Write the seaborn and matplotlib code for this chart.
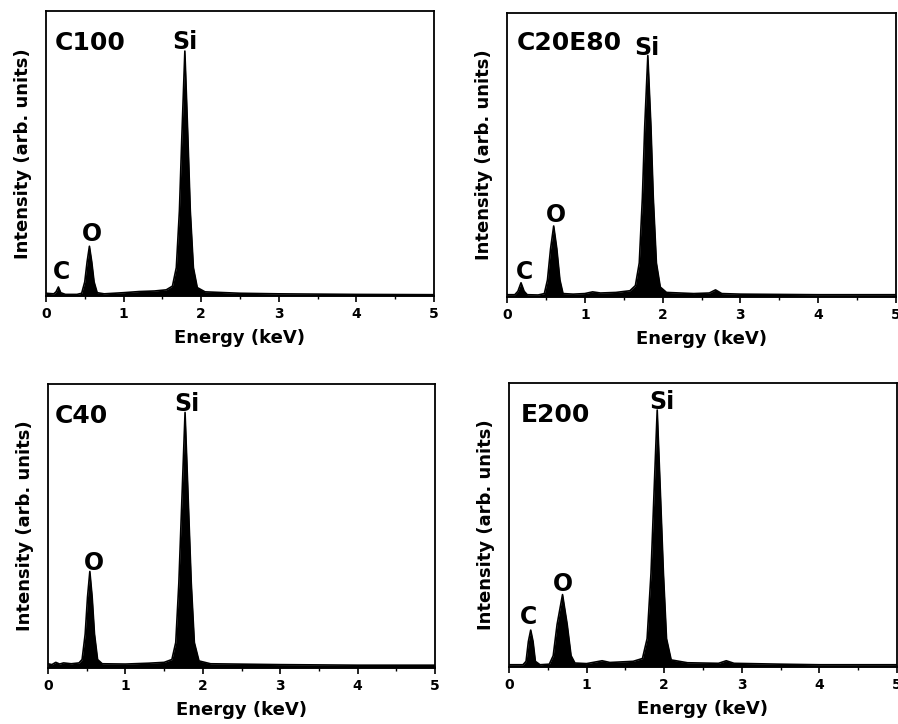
import numpy as np
import pandas as pd
import matplotlib
matplotlib.use("Agg")
import matplotlib.pyplot as plt
from matplotlib.ticker import MultipleLocator
import seaborn as sns

# ---------------- data ----------------
samples = ["C100", "C20E80", "C40", "E200"]

c100_energy = [0.00, 0.10, 0.13, 0.16, 0.19, 0.25, 0.40, 0.46, 0.50, 0.53, 0.56, 0.59, 0.62, 0.66,
               0.75, 1.00, 1.20, 1.40, 1.55, 1.63, 1.68, 1.72, 1.75, 1.79, 1.83, 1.86, 1.90, 1.95,
               2.05, 2.50, 3.00, 4.00, 5.00]
c100_intensity = [0.010, 0.008, 0.015, 0.032, 0.012, 0.006, 0.006, 0.010, 0.050, 0.120, 0.175, 0.120,
                  0.050, 0.012, 0.008, 0.012, 0.016, 0.018, 0.022, 0.035, 0.100, 0.300, 0.550, 0.860,
                  0.550, 0.300, 0.100, 0.030, 0.015, 0.010, 0.008, 0.006, 0.005]

c20e80_energy = [0.00, 0.10, 0.14, 0.18, 0.22, 0.26, 0.40, 0.48, 0.52, 0.56, 0.60, 0.64, 0.68, 0.72,
                 0.85, 1.00, 1.10, 1.20, 1.40, 1.58, 1.65, 1.70, 1.74, 1.77, 1.81, 1.85, 1.88, 1.92,
                 1.97, 2.05, 2.40, 2.60, 2.68, 2.76, 3.00, 4.00, 5.00]
c20e80_intensity = [0.008, 0.008, 0.020, 0.050, 0.020, 0.008, 0.007, 0.012, 0.060, 0.170, 0.250, 0.170,
                    0.060, 0.012, 0.010, 0.012, 0.018, 0.014, 0.016, 0.022, 0.040, 0.120, 0.350, 0.600,
                    0.850, 0.600, 0.350, 0.120, 0.035, 0.016, 0.012, 0.014, 0.025, 0.012, 0.010, 0.008,
                    0.008]

c40_energy = [0.00, 0.05, 0.10, 0.15, 0.20, 0.30, 0.40, 0.44, 0.48, 0.51, 0.54, 0.57, 0.60, 0.64,
              0.70, 1.00, 1.30, 1.50, 1.60, 1.65, 1.69, 1.73, 1.77, 1.81, 1.85, 1.89, 1.95, 2.10,
              3.00, 4.00, 5.00]
c40_intensity = [0.015, 0.012, 0.020, 0.014, 0.018, 0.015, 0.018, 0.030, 0.120, 0.250, 0.340, 0.250,
                 0.120, 0.030, 0.015, 0.014, 0.017, 0.020, 0.030, 0.090, 0.300, 0.600, 0.900, 0.600,
                 0.300, 0.090, 0.025, 0.015, 0.012, 0.010, 0.010]

e200_energy = [0.00, 0.18, 0.22, 0.25, 0.28, 0.31, 0.34, 0.40, 0.52, 0.57, 0.62, 0.69, 0.75, 0.80,
               0.85, 1.00, 1.20, 1.30, 1.60, 1.72, 1.78, 1.83, 1.87, 1.91, 1.95, 1.99, 2.03, 2.09,
               2.30, 2.70, 2.80, 2.90, 3.50, 4.00, 5.00]
e200_intensity = [0.008, 0.008, 0.020, 0.090, 0.130, 0.090, 0.020, 0.008, 0.010, 0.040, 0.150, 0.255,
                  0.150, 0.040, 0.014, 0.012, 0.022, 0.016, 0.020, 0.030, 0.100, 0.330, 0.620, 0.905,
                  0.620, 0.330, 0.100, 0.025, 0.015, 0.013, 0.022, 0.013, 0.010, 0.008, 0.008]

energies = [c100_energy, c20e80_energy, c40_energy, e200_energy]
intensities = [c100_intensity, c20e80_intensity, c40_intensity, e200_intensity]

# element labels per panel: (text, energy, y)
element_labels = [
    [("C", 0.20, 0.056), ("O", 0.59, 0.190), ("Si", 1.79, 0.862)],
    [("C", 0.22, 0.060), ("O", 0.63, 0.260), ("Si", 1.80, 0.846)],
    [("O", 0.59, 0.340), ("Si", 1.79, 0.900)],
    [("C", 0.25, 0.147), ("O", 0.70, 0.264), ("Si", 1.97, 0.904)],
]

x_ticks = [0, 1, 2, 3, 4, 5]
x_label = "Energy (keV)"
y_label = "Intensity (arb. units)"

# ---------------- style ----------------
sns.set_style("ticks")
plt.rcParams["font.family"] = ["DejaVu Sans"]
plt.rcParams["text.color"] = "black"
plt.rcParams["axes.labelcolor"] = "black"
plt.rcParams["xtick.color"] = "black"
plt.rcParams["ytick.color"] = "black"

frames = []
for s, e, i in zip(samples, energies, intensities):
    frames.append(pd.DataFrame({"Sample": s, "Energy": e, "Intensity": i}))
df = pd.concat(frames, ignore_index=True)

fig = plt.figure(figsize=(8.98, 7.24), dpi=100)
positions = [
    [0.0512, 0.5910, 0.4320, 0.3936],
    [0.5646, 0.5898, 0.4332, 0.3923],
    [0.0535, 0.0773, 0.4310, 0.3923],
    [0.5668, 0.0787, 0.4321, 0.3923],
]
label_pos = [(0.023, 0.863), (0.026, 0.870), (0.018, 0.863), (0.031, 0.863)]

for k, s in enumerate(samples):
    ax = fig.add_axes(positions[k])
    sub = df[df["Sample"] == s]
    ax.fill_between(sub["Energy"], 0, sub["Intensity"], color="black", linewidth=0)
    sns.lineplot(data=sub, x="Energy", y="Intensity", ax=ax, color="black",
                 linewidth=1.2, estimator=None, sort=False)
    ax.set_xlim(0, 5)
    ax.set_ylim(0, 1)
    ax.set_xticks(x_ticks)
    ax.set_xticklabels([str(t) for t in x_ticks], fontsize=10, fontweight="bold")
    ax.xaxis.set_minor_locator(MultipleLocator(0.5))
    ax.set_yticks([])
    ax.tick_params(axis="x", which="major", direction="out", length=4, width=1.2,
                   pad=4, colors="black")
    ax.tick_params(axis="x", which="minor", direction="out", length=2.5, width=1.0)
    for sp in ax.spines.values():
        sp.set_visible(True)
        sp.set_linewidth(1.3)
        sp.set_color("black")
    ax.set_xlabel(x_label, fontsize=13, fontweight="bold")
    ax.set_ylabel(y_label, fontsize=13, fontweight="bold")
    ax.xaxis.set_label_coords(0.5, -0.115)
    ax.yaxis.set_label_coords(-0.035, 0.5)
    ax.xaxis.label.set_va("top")

    lx, ly = label_pos[k]
    ax.text(lx, ly, s, transform=ax.transAxes, fontsize=18, fontweight="bold",
            va="baseline", ha="left")
    for txt, ex, ey in element_labels[k]:
        ax.text(ex, ey + 0.005, txt, fontsize=17, fontweight="bold",
                va="baseline", ha="center")

fig.savefig("out.png", dpi=100)
